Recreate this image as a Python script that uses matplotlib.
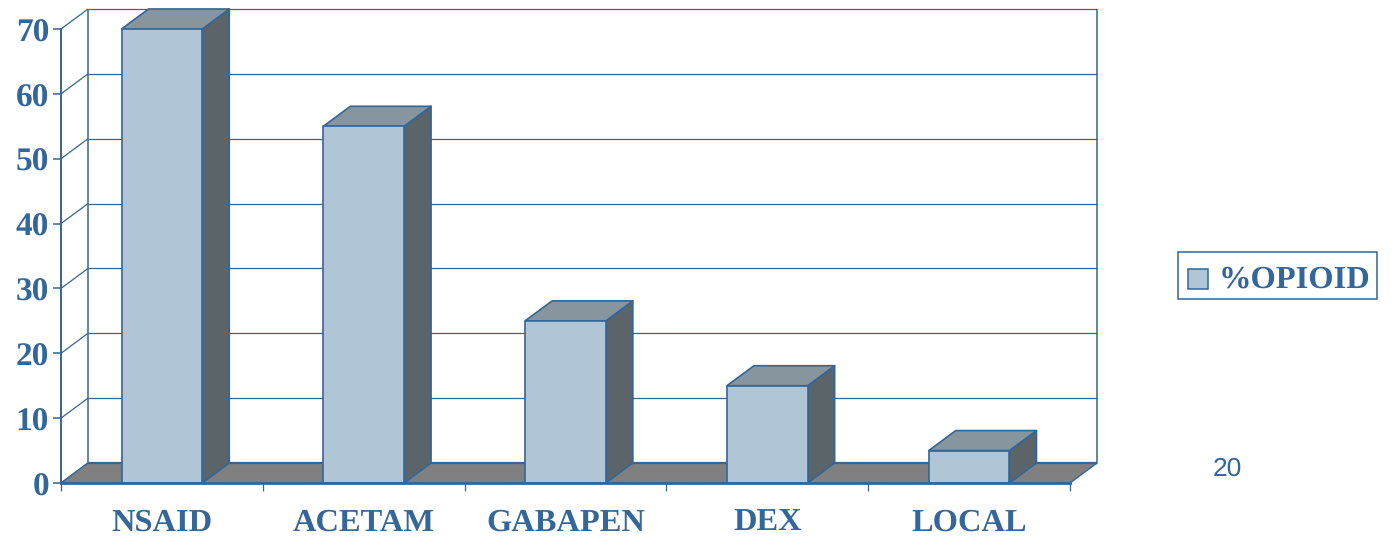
import matplotlib
matplotlib.use("Agg")
import matplotlib.pyplot as plt
from matplotlib.patches import Polygon, Rectangle
from matplotlib.transforms import ScaledTranslation

plt.rcParams["text.hinting"] = "no_hinting"

categories = ["NSAID", "ACETAM", "GABAPEN", "DEX", "LOCAL"]
opioid_pct = [70, 55, 25, 15, 5]
y_ticks = [0, 10, 20, 30, 40, 50, 60, 70]
series_name = "%OPIOID"
slide_number = "20"

INK = "#336699"
FACE = "#B0C6D6"
SIDE = "#5A6469"
TOP = "#87959F"
FLOOR = "#808080"

W, H = 1395, 536
fig = plt.figure(figsize=(W / 100, H / 100), dpi=100, facecolor="white")

# front plane of the box, in figure pixels
ax = fig.add_axes([61 / W, 1 - 483 / H, 1009 / W, 454 / H])
ax.set_xlim(0, 5)
ax.set_ylim(0, 70)
ax.patch.set_visible(False)

# oblique depth of the box in data units
DX = 5 * 27 / 1009
DY = 70 * 20 / 454
BAR_W = 0.40
LW = 1.2


def line(xs, ys, lw=LW, z=2):
    ax.plot(xs, ys, color=INK, lw=lw, clip_on=False, zorder=z, solid_capstyle="butt")


# back wall, gridlines and their returns along the left wall
for v in y_ticks:
    line([DX, 5 + DX], [v + DY, v + DY], lw=0.9)
    line([0, DX], [v, v + DY], lw=0.9)
line([DX, DX], [DY, 70 + DY], lw=1.1)
line([5 + DX, 5 + DX], [DY, 70 + DY], lw=1.1)

# floor
ax.add_patch(Polygon([(0, 0), (5, 0), (5 + DX, DY), (DX, DY)], closed=True, facecolor=FLOOR,
                     edgecolor=INK, lw=1.0, clip_on=False, zorder=3))
line([DX, 5 + DX], [DY, DY], lw=1.6, z=3)

# extruded columns
for i, value in enumerate(opioid_pct):
    x0 = i + 0.5 - BAR_W / 2
    x1 = x0 + BAR_W
    style = dict(closed=True, edgecolor=INK, lw=LW, clip_on=False, zorder=4, joinstyle="round")
    ax.add_patch(Polygon([(x1, 0), (x1 + DX, DY), (x1 + DX, value + DY), (x1, value)],
                         facecolor=SIDE, **style))
    ax.add_patch(Polygon([(x0, value), (x1, value), (x1 + DX, value + DY), (x0 + DX, value + DY)],
                         facecolor=TOP, **style))
    ax.add_patch(Polygon([(x0, 0), (x1, 0), (x1, value), (x0, value)], facecolor=FACE, **style))

# axes furniture
for name in ("top", "right"):
    ax.spines[name].set_visible(False)
ax.spines["left"].set_color(INK)
ax.spines["left"].set_linewidth(1.4)
ax.spines["bottom"].set_color(INK)
ax.spines["bottom"].set_linewidth(2)
for s in ax.spines.values():
    s.set_zorder(5)

ax.set_yticks(y_ticks)
ax.set_yticklabels([str(v) for v in y_ticks], family="Liberation Serif", weight="bold",
                   fontsize=24, color=INK)
ax.tick_params(axis="y", length=5.5, width=1.1, color=INK, pad=3)
nudge = ScaledTranslation(0, -1 / 100, fig.dpi_scale_trans)
for label in ax.get_yticklabels():
    label.set_transform(label.get_transform() + nudge)

ax.set_xticks(range(6))
ax.set_xticklabels([""] * 6)
ax.tick_params(axis="x", length=6, width=0.9, color=INK)
for i, name in enumerate(categories):
    ax.annotate(name, xy=(i + 0.5, 0), xytext=(0, -48), xycoords="data", textcoords="offset pixels",
                ha="center", va="baseline", family="Liberation Serif", weight="bold",
                fontsize=23.4, color=INK, annotation_clip=False)

# legend box, placed in figure pixels
fig.add_artist(Rectangle((1178 / W, 1 - 299 / H), 199 / W, 47 / H, transform=fig.transFigure,
                         facecolor="white", edgecolor=INK, lw=1.1))
fig.add_artist(Rectangle((1188 / W, 1 - 289 / H), 20 / W, 20 / H, transform=fig.transFigure,
                         facecolor=FACE, edgecolor=INK, lw=1.1))
fig.text(1219 / W, 1 - 280 / H, series_name, family="Liberation Serif", weight="bold",
         fontsize=23.4, color=INK, ha="left", va="center")

fig.text(1227 / W, 1 - 469 / H, slide_number, family="Liberation Sans", fontsize=19,
         color=INK, ha="center", va="center")

fig.savefig("out.png", dpi=100)
